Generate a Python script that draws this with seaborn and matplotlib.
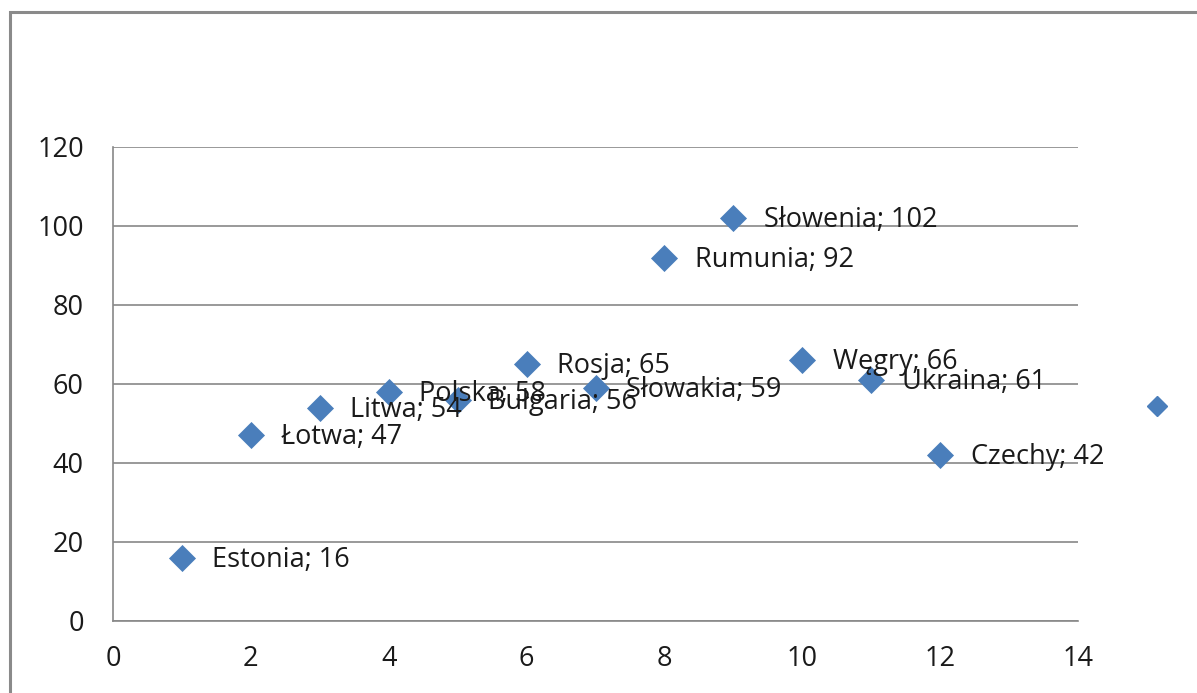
import numpy as np
import pandas as pd
import seaborn as sns
import matplotlib.pyplot as plt
from matplotlib.lines import Line2D
from matplotlib.patches import Rectangle

sns.set_style("white")
plt.rcParams['font.family'] = ['Open Sans', 'DejaVu Sans']

countries = ["Estonia", "Łotwa", "Litwa", "Polska", "Bułgaria", "Rosja",
             "Słowakia", "Rumunia", "Słowenia", "Węgry", "Ukraina", "Czechy"]
positions = [1, 2, 3, 4, 5, 6, 7, 8, 9, 10, 11, 12]
values = [16, 47, 54, 58, 56, 65, 59, 92, 102, 66, 61, 42]

df = pd.DataFrame({"x": positions, "y": values, "name": countries})

blue = "#4A7EBB"
grey = "#888888"

fig = plt.figure(figsize=(11.97, 6.93), dpi=100)
ax = fig.add_axes([0.0944, 0.1039, 0.8062, 0.684])

sns.scatterplot(data=df, x="x", y="y", marker="D", s=190, color=blue,
                edgecolor=blue, linewidth=0, ax=ax, zorder=3, legend=False)

for _, row in df.iterrows():
    ax.annotate(f"{row['name']}; {row['y']}", (row["x"], row["y"]),
                xytext=(22, -1.5), textcoords="offset points",
                ha="left", va="center", fontsize=19.5, color="#1a1a1a", zorder=4)

ax.set_xlim(0, 14)
ax.set_ylim(0, 120)
ax.set_xticks(np.arange(0, 15, 2))
ax.set_yticks(np.arange(0, 121, 20))
ax.set_xlabel("")
ax.set_ylabel("")
ax.grid(axis="y", color=grey, linewidth=1.2)
ax.grid(axis="x", visible=False)
for side in ["top", "right"]:
    ax.spines[side].set_visible(False)
for side in ["left", "bottom"]:
    ax.spines[side].set_color(grey)
    ax.spines[side].set_linewidth(1.2)
ax.tick_params(axis="both", direction="out", length=7, width=1.2, color=grey,
               labelsize=19.5, labelcolor="#1a1a1a")
ax.tick_params(axis="x", pad=10)
ax.tick_params(axis="y", pad=14)

# legend symbol without text, outside plot area
ax.legend(handles=[Line2D([], [], marker="D", color=blue, linestyle="",
                          markersize=10.5)], labels=[""],
          loc="center left", bbox_to_anchor=(1.065, 0.45), frameon=False,
          handlelength=0.5, handletextpad=0)

# outer chart border
fig.patches.append(Rectangle((10 / 1197, -0.05), 1.1, 1.05 - 12 / 693,
                             transform=fig.transFigure, fill=False,
                             edgecolor="#8a8a8a", linewidth=2.2))

fig.savefig("out.png", dpi=100)
